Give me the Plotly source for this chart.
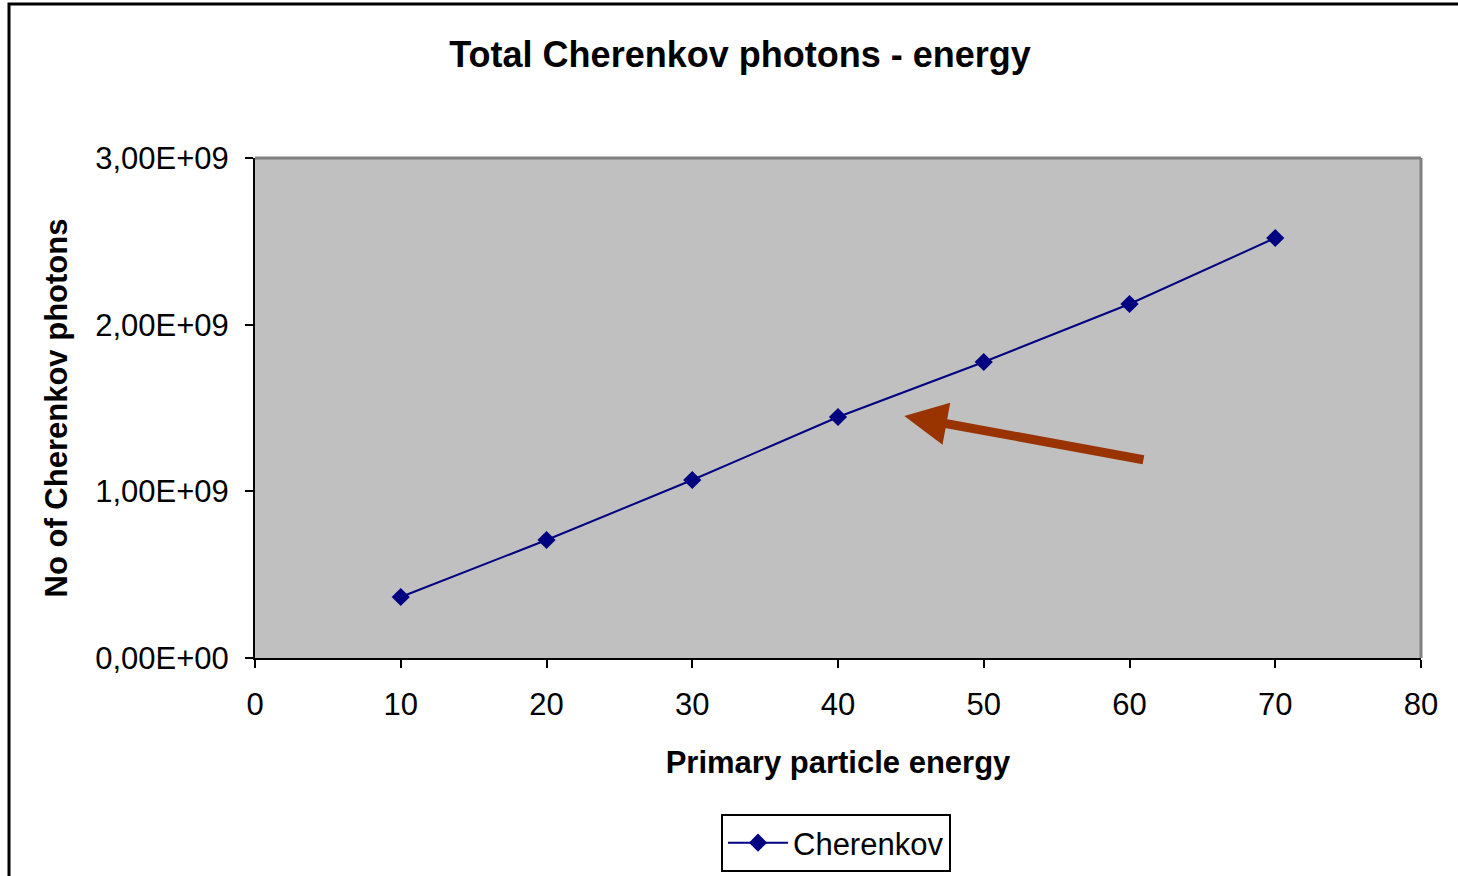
import plotly.graph_objects as go

energy = [10, 20, 30, 40, 50, 60, 70]
photons = [0.366e9, 0.708e9, 1.068e9, 1.446e9, 1.776e9, 2.124e9, 2.52e9]
y_tickvals = [0, 1e9, 2e9, 3e9]
y_ticktext = ["0,00E+00", "1,00E+09", "2,00E+09", "3,00E+09"]
x_tickvals = [0, 10, 20, 30, 40, 50, 60, 70, 80]

FONT = "Liberation Sans, Arial, sans-serif"
L, R, T, B = 255, 1421, 158, 658
W, H = 1458, 876

def px_x(p):
    return (p - L) / (R - L)

def px_y(p):
    return (B - p) / (B - T)

fig = go.Figure()
fig.add_trace(go.Scatter(
    x=energy, y=photons, mode="lines+markers", name="Cherenkov",
    line=dict(color="#000080", width=2),
    marker=dict(symbol="diamond", size=14, color="#000080"),
))

fig.update_layout(
    width=W, height=H,
    margin=dict(l=L, r=W - R, t=T, b=H - B, autoexpand=False),
    paper_bgcolor="white", plot_bgcolor="#C0C0C0",
    font=dict(family=FONT, color="black", size=31),
    title=dict(text="<b>Total Cherenkov photons - energy</b>", x=px_x(740), xref="paper",
               xanchor="center", y=1 - 54 / H, yanchor="middle", font=dict(size=36)),
    showlegend=True,
    legend=dict(x=px_x(836), y=px_y(814), xanchor="center", yanchor="top",
                bordercolor="black", borderwidth=2, bgcolor="white",
                font=dict(size=31), itemwidth=60),
    xaxis=dict(range=[0, 80], tickvals=x_tickvals, showgrid=False, zeroline=False,
               showline=True, linecolor="black", linewidth=2,
               ticks="outside", ticklen=8, tickwidth=2, tickcolor="black",
               tickfont=dict(size=31), ticklabelstandoff=10,
               title=dict(text="<b>Primary particle energy</b>", font=dict(size=31), standoff=30)),
    yaxis=dict(range=[0, 3e9], tickvals=y_tickvals, ticktext=y_ticktext, showgrid=False,
               zeroline=False, showline=True, linecolor="black", linewidth=2,
               ticks="outside", ticklen=8, tickwidth=2, tickcolor="black",
               tickfont=dict(size=31), ticklabelstandoff=10,
               title=dict(text="<b>No of Cherenkov photons</b>", font=dict(size=31), standoff=18)),
)

# gray top/right border of plot area
fig.add_shape(type="line", xref="paper", yref="paper", x0=0, x1=1, y0=1, y1=1,
              line=dict(color="#808080", width=3), layer="above")
fig.add_shape(type="line", xref="paper", yref="paper", x0=1, x1=1, y0=0, y1=1,
              line=dict(color="#808080", width=3), layer="above")
# outer chart frame
fig.add_shape(type="rect", xref="paper", yref="paper",
              x0=px_x(9), x1=px_x(1464), y0=px_y(4), y1=px_y(884),
              line=dict(color="black", width=3))

# arrow annotation
fig.add_annotation(x=44.55, y=1.452e9, ax=61.06, ay=1.188e9, xref="x", yref="y",
                   axref="x", ayref="y", text="", showarrow=True,
                   arrowhead=2, arrowsize=0.95, arrowwidth=9, arrowcolor="#993300")

fig.write_html("out.html")
